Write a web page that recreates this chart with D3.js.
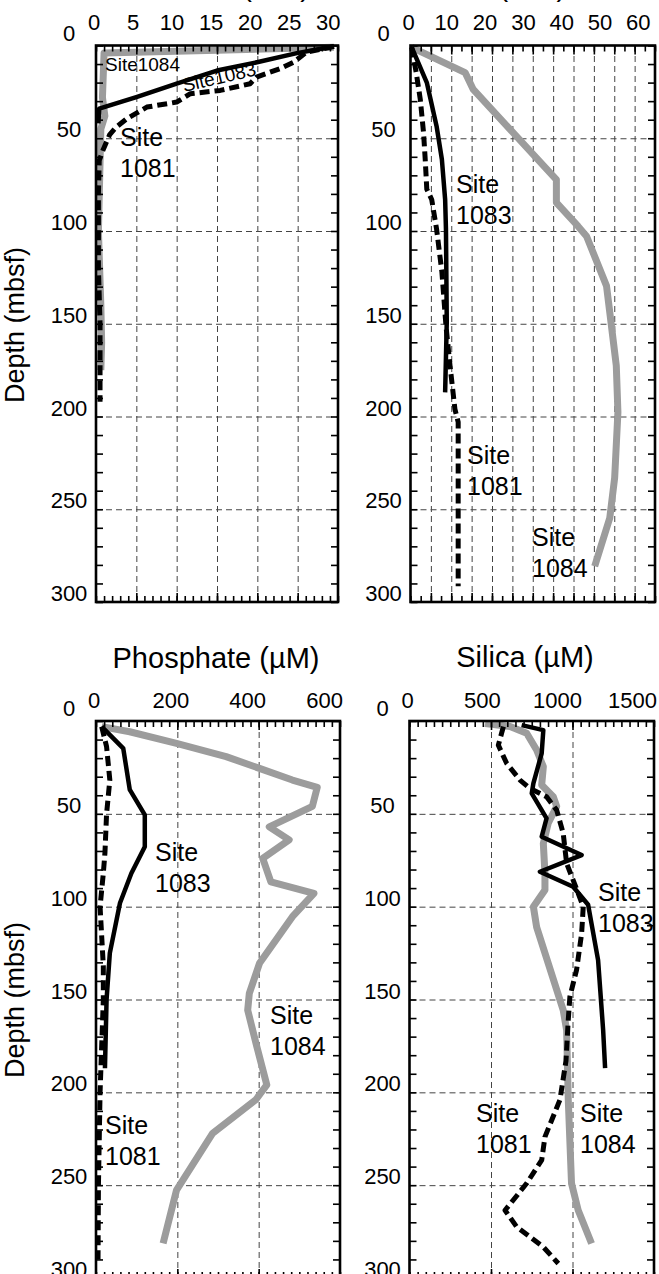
<!DOCTYPE html>
<html>
<head>
<meta charset="utf-8">
<script src="https://cdn.jsdelivr.net/npm/d3@7"></script>
<style>
  body { margin: 0; background: #fff; }
  svg { display: block; font-family: "Liberation Sans", Arial, Helvetica, sans-serif; }
</style>
</head>
<body>
<svg id="chart" width="659" height="1274"></svg>
<script>
// tick labels
var depthTicks = [0, 50, 100, 150, 200, 250, 300];
var sulfateTicks = [0, 5, 10, 15, 20, 25, 30];
var ammoniumTicks = [0, 10, 20, 30, 40, 50, 60];
var phosphateTicks = [0, 200, 400, 600];
var silicaTicks = [0, 500, 1000, 1500];

// pore water profiles, [depth (mbsf), concentration]
var sulfate1084 = [[1,29.5],[2.5,15],[4,1],[28,0.8],[38,1.1],[45,0.6],[100,0.3],[140,0.6],[160,0.7],[175,0.6]];
var sulfate1083 = [[0.5,29.5],[4.1,24.9],[8.9,20.1],[13.5,15],[20.6,10],[27.8,5],[34,0.4],[42,0.3]];
var sulfate1081 = [[0.5,29.5],[3.6,26.1],[9,24.5],[12.5,22.8],[17,19.9],[20.6,19.1],[24.2,15.4],[26,11.7],[30.5,10],[33.2,6.3],[39.5,3.8],[44,2.5],[48,1.7],[56,0.9],[62,0.4],[80,0.3],[120,0.3],[150,0.5],[192,0.5]];

var ammonium1084 = [[1,0.3],[14.6,13.4],[23.7,15.4],[72.3,35.8],[84.7,35.8],[97.4,41.1],[102.8,43.2],[129.6,48.1],[143.8,48.9],[172.6,50.5],[197.7,50.9],[233.1,50.1],[254.7,48.9],[280.7,45.2]];
var ammonium1083 = [[1,0.3],[20,4],[43.5,6.4],[61.4,7.7],[83,8.5],[99,8.7],[149,8.9],[187,8.5]];
var ammonium1081 = [[1,0.3],[14.6,1.4],[29,2.4],[47,3.2],[61,3.6],[77.5,4],[83,5.2],[99,6.4],[122,7.7],[151,8.7],[172.6,9.7],[196,10.9],[203,11.7],[291.5,11.7]];

var phosphate1084 = [[3,14],[5.8,83],[12,198],[19.2,320],[25.5,402],[31.8,483],[35.7,544],[46,532],[57,426],[64,475],[74,410],[86.6,430],[92.8,536],[105.4,483],[130.5,402],[146.7,377],[155.7,373],[175,395],[196,420],[204,393],[222,287],[252.7,198],[281.4,165]];
var phosphate1083 = [[3,14],[14.7,67],[37,83],[50.6,120],[67.7,120],[82,87],[98,59],[125,34],[150,26],[187,22]];
var phosphate1081 = [[3,14],[13.8,26],[31.8,34],[50,26],[71,22],[82,18],[100,10],[132,18],[150,18],[200,10],[250,6],[290,5]];

var silica1084 = [[1.3,464],[3,617],[6.6,719],[15.6,780],[24.6,821],[34.5,811],[40.8,882],[46,903],[55,851],[66,821],[82,831],[91,831],[100,760],[111,780],[155.7,943],[166.5,964],[204,974],[249,994],[263.5,1035],[281.4,1117]];
var silica1083 = [[2.2,688],[4.9,821],[17.4,811],[33.6,760],[39,750],[52.4,841],[62.3,811],[72.2,1056],[81.2,800],[89.3,1004],[99,1096],[128.8,1157],[166.5,1188],[187,1200]];
var silica1081 = [[3,576],[13,545],[22.8,596],[31.8,678],[36.3,739],[40.8,841],[48,903],[60.5,943],[76.7,964],[85.7,1004],[100,1066],[114.4,1056],[134,1025],[148.5,984],[161,974],[183,960],[204,923],[224,831],[236.5,811],[249,719],[258,637],[263.5,586],[272.5,658],[283.3,821],[292.2,913]];

var svg = d3.select("#chart");

var panels = [
  {title: "Sulfate (mM)", titleX: 227, titleY: -4, left: 96, right: 338, top: 45.5, bottom: 602,
   domain: [0, 30], ticks: sulfateTicks, grid: 5, minor: 1, squeeze: 0.968, tickY: -16,
   data: [sulfate1084, sulfate1083, sulfate1081],
   labels: [
     {lines: ["Site1084"], x: 105, y: 71, size: 19},
     {lines: ["Site1083"], x: 184, y: 92, size: 19, rotate: -13},
     {lines: ["Site", "1081"], x: 120, y: 146, size: 25}
   ]},
  {title: "Ammonium (mM)", titleX: 455, titleY: -4, left: 410.5, right: 655, top: 45.5, bottom: 602,
   domain: [0, 60], ticks: ammoniumTicks, grid: 5, minor: 2.5, squeeze: 0.94, tickY: -16,
   data: [ammonium1084, ammonium1083, ammonium1081],
   labels: [
     {lines: ["Site", "1083"], x: 456, y: 193, size: 25},
     {lines: ["Site", "1081"], x: 467, y: 464, size: 25},
     {lines: ["Site", "1084"], x: 532, y: 546, size: 25}
   ]},
  {title: "Phosphate (\u00b5M)", titleX: 216, titleY: 668, left: 96, right: 340, top: 721, bottom: 1278,
   domain: [0, 600], ticks: phosphateTicks, grid: 200, minor: 20, squeeze: 0.945, tickY: -13,
   data: [phosphate1084, phosphate1083, phosphate1081],
   labels: [
     {lines: ["Site", "1083"], x: 155, y: 861, size: 25},
     {lines: ["Site", "1084"], x: 270, y: 1024, size: 25},
     {lines: ["Site", "1081"], x: 105, y: 1134, size: 25}
   ]},
  {title: "Silica (\u00b5M)", titleX: 525, titleY: 667, left: 409.5, right: 654, top: 721, bottom: 1278,
   domain: [0, 1500], ticks: silicaTicks, grid: 500, minor: 50, squeeze: 0.92, tickY: -13,
   data: [silica1084, silica1083, silica1081],
   labels: [
     {lines: ["Site", "1083"], x: 598, y: 901, size: 25},
     {lines: ["Site", "1081"], x: 476, y: 1122, size: 25},
     {lines: ["Site", "1084"], x: 580, y: 1122, size: 25}
   ]}
];

// gray = Site 1084, solid = Site 1083, dashed = Site 1081
var styles = [
  {stroke: "#9c9c9c", width: 7, dash: null},
  {stroke: "#000", width: 4.5, dash: null},
  {stroke: "#000", width: 5, dash: "10,5"}
];

panels.forEach(function(p) {
  var x = d3.scaleLinear().domain(p.domain).range([p.left, p.right]);
  var xl = d3.scaleLinear().domain(p.domain)
      .range([p.left - 2, p.left - 2 + p.squeeze * (p.right - p.left)]);
  var y = d3.scaleLinear().domain([0, 300]).range([p.top, p.bottom]);
  var h = p.bottom - p.top, w = p.right - p.left;
  var g = svg.append("g");

  // dashed grid
  var vgrid = d3.range(p.domain[0] + p.grid, p.domain[1], p.grid);
  g.append("g")
      .attr("transform", "translate(0," + p.bottom + ")")
      .call(d3.axisBottom(x).tickValues(vgrid).tickSize(-h).tickFormat(""))
      .call(function(a) { a.select(".domain").remove(); });
  g.append("g")
      .attr("transform", "translate(" + p.left + ",0)")
      .call(d3.axisLeft(y).tickValues(depthTicks.slice(1, -1)).tickSize(-w).tickFormat(""))
      .call(function(a) { a.select(".domain").remove(); });
  g.selectAll(".tick line")
      .attr("stroke", "#444")
      .attr("stroke-width", 1)
      .attr("stroke-dasharray", "6,4");

  // profiles
  var line = d3.line()
      .x(function(d) { return x(d[1]); })
      .y(function(d) { return y(d[0]); });
  p.data.forEach(function(series, i) {
    var s = styles[i];
    g.append("path")
        .datum(series)
        .attr("d", line)
        .attr("fill", "none")
        .attr("stroke", s.stroke)
        .attr("stroke-width", s.width)
        .attr("stroke-linejoin", "round")
        .attr("stroke-dasharray", s.dash);
  });

  // inward ticks on all four sides
  var minorVals = d3.range(p.domain[0], p.domain[1] + 1e-6, p.minor);
  var depthMinor = d3.range(0, 301, 10);
  function ticks(axis, tr) {
    g.append("g")
        .attr("class", "frame")
        .attr("transform", tr)
        .call(axis)
        .call(function(a) {
          a.select(".domain").remove();
          a.selectAll("line").attr("stroke", "#000").attr("stroke-width", 1.6);
        });
  }
  ticks(d3.axisTop(x).tickValues(minorVals).tickSize(-6).tickFormat(""), "translate(0," + p.top + ")");
  ticks(d3.axisBottom(x).tickValues(minorVals).tickSize(-6).tickFormat(""), "translate(0," + p.bottom + ")");
  ticks(d3.axisLeft(y).tickValues(depthMinor).tickSize(-7).tickFormat(""), "translate(" + p.left + ",0)");
  ticks(d3.axisRight(y).tickValues(depthMinor).tickSize(-7).tickFormat(""), "translate(" + p.right + ",0)");
  ticks(d3.axisTop(x).tickValues(vgrid).tickSize(-9).tickFormat(""), "translate(0," + p.top + ")");
  ticks(d3.axisBottom(x).tickValues(vgrid).tickSize(-9).tickFormat(""), "translate(0," + p.bottom + ")");

  g.append("rect")
      .attr("x", p.left).attr("y", p.top)
      .attr("width", w).attr("height", h)
      .attr("fill", "none")
      .attr("stroke", "#000")
      .attr("stroke-width", 2.6);

  // tick labels along the top
  g.selectAll(".xlab")
      .data(p.ticks)
    .enter().append("text")
      .attr("x", function(d) { return xl(d); })
      .attr("y", p.top + p.tickY)
      .attr("text-anchor", "middle")
      .attr("font-size", 22)
      .text(function(d) { return d; });

  // depth labels, centred left of the box and lifted above the grid line
  g.selectAll(".ylab")
      .data(depthTicks)
    .enter().append("text")
      .attr("x", p.left - 27)
      .attr("y", function(d) { return d === 0 ? y(d) - 5 : y(d) - 1; })
      .attr("text-anchor", "middle")
      .attr("font-size", 22)
      .text(function(d) { return d; });

  g.append("text")
      .attr("x", p.titleX)
      .attr("y", p.titleY)
      .attr("text-anchor", "middle")
      .attr("font-size", 29)
      .text(p.title);

  p.labels.forEach(function(l) {
    var t = g.append("text")
        .attr("x", l.x)
        .attr("y", l.y)
        .attr("font-size", l.size);
    if (l.rotate) t.attr("transform", "rotate(" + l.rotate + "," + l.x + "," + l.y + ")");
    l.lines.forEach(function(s, k) {
      t.append("tspan")
          .attr("x", l.x)
          .attr("dy", k === 0 ? 0 : l.size * 1.22)
          .text(s);
    });
  });
});

// shared axis title for each row
[325, 1000].forEach(function(cy) {
  svg.append("text")
      .attr("transform", "translate(24," + cy + ") rotate(-90)")
      .attr("text-anchor", "middle")
      .attr("font-size", 27)
      .text("Depth (mbsf)");
});
</script>
</body>
</html>
